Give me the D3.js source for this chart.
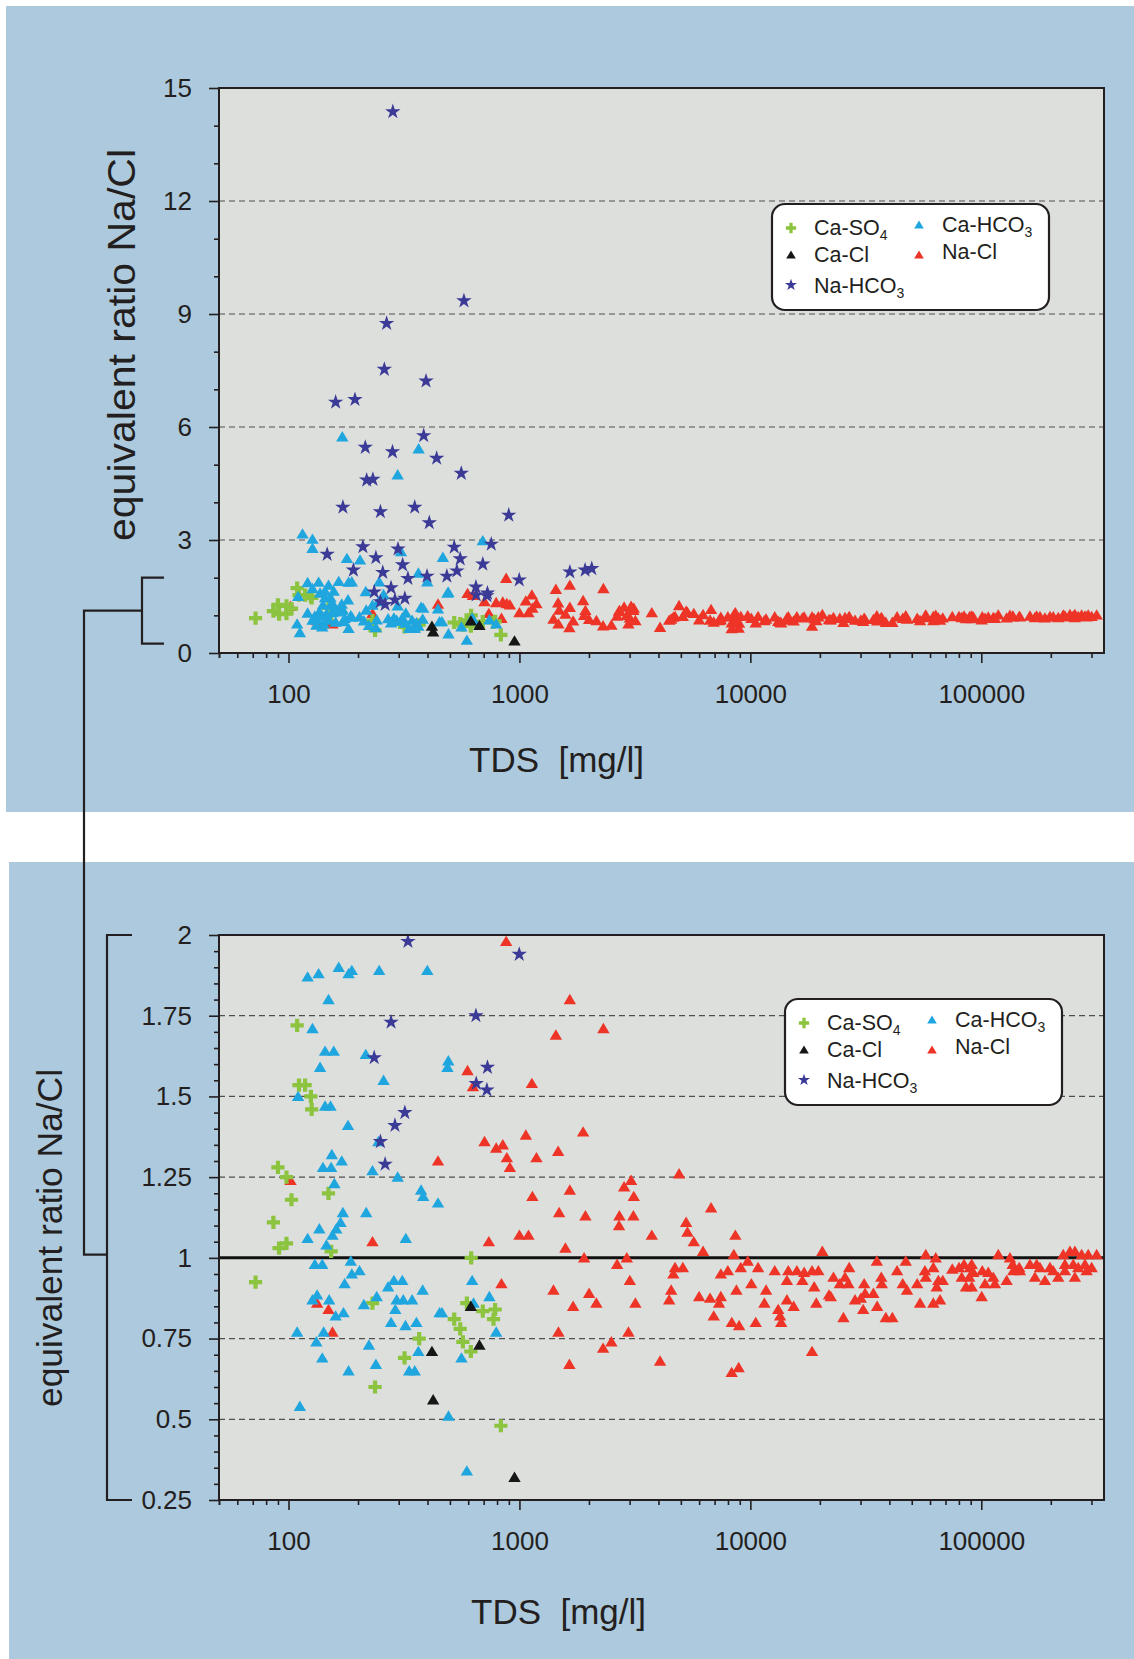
<!DOCTYPE html>
<html>
<head>
<meta charset="utf-8">
<script src="https://cdn.jsdelivr.net/npm/d3@7"></script>
<style>
  body { margin: 0; background: #fff; }
  svg { display: block; }
  text { font-family: "Liberation Sans", Arial, Helvetica, sans-serif; fill: #231f20; }
</style>
</head>
<body>
<svg id="chart" width="1134" height="1659"></svg>
<script>
// ---- data: [TDS mg/l, equivalent ratio Na/Cl] per water type ----
const caSO4 = [
  [109,1.72],[111,1.535],[118,1.535],[125,1.50],[126,1.46],[90,1.28],[98,1.25],[103,1.18],
  [149,1.20],[86,1.11],[98,1.045],[91,1.03],[153,1.02],[72,0.925],[231,0.86],[368,0.75],
  [318,0.69],[237,0.60],[618,1.00],[592,0.86],[694,0.835],[785,0.84],[772,0.81],[522,0.81],
  [554,0.78],[569,0.74],[616,0.71],[831,0.48]
];
const caCl = [[418,0.71],[423,0.56],[616,0.85],[671,0.73],[952,0.32]];
const naHCO3 = [
  [329,1.98],[278,1.73],[235,1.62],[319,1.45],[289,1.41],[250,1.36],[262,1.29],[998,1.94],
  [648,1.75],[727,1.59],[650,1.54],[723,1.52],
  [283,14.37],[575,9.35],[266,8.75],[260,7.53],[394,7.22],[160,6.66],[194,6.73],[385,5.77],
  [215,5.46],[282,5.34],[438,5.17],[560,4.77],[218,4.59],[232,4.61],[172,3.87],[250,3.75],
  [352,3.87],[407,3.46],[899,3.66],[147,2.62],[210,2.82],[239,2.53],[298,2.76],[312,2.34],
  [522,2.81],[554,2.50],[755,2.89],[694,2.36],[191,2.20],[536,2.18],[485,2.04],[398,2.04],
  [256,2.14],[1654,2.15],[1925,2.20],[2057,2.24]
];
const caHCO3 = [
  [121,1.87],[135,1.88],[165,1.90],[182,1.88],[188,1.89],[247,1.89],[399,1.89],[149,1.80],
  [127,1.71],[144,1.64],[157,1.64],[216,1.63],[492,1.61],[488,1.59],[137,1.59],[258,1.55],
  [110,1.50],[144,1.47],[152,1.47],[181,1.41],[245,1.36],[154,1.32],[141,1.28],[153,1.28],
  [170,1.30],[231,1.27],[297,1.25],[158,1.23],[375,1.21],[383,1.19],[444,1.17],[172,1.14],
  [217,1.14],[136,1.09],[168,1.11],[161,1.09],[155,1.07],[121,1.06],[322,1.06],[146,1.04],
  [130,0.98],[140,0.98],[186,0.99],[188,0.95],[203,0.96],[175,0.92],[270,0.91],[286,0.93],
  [311,0.93],[381,0.90],[127,0.87],[133,0.885],[150,0.87],[160,0.82],[173,0.83],[212,0.855],
  [241,0.88],[294,0.87],[314,0.87],[343,0.87],[290,0.84],[451,0.83],[278,0.80],[321,0.79],
  [358,0.80],[109,0.77],[142,0.77],[132,0.74],[223,0.73],[365,0.71],[140,0.69],[239,0.67],
  [333,0.65],[352,0.65],[182,0.65],[112,0.54],[493,0.51],[592,0.34],[624,0.93],[741,0.88],
  [633,0.86],[462,0.83],[793,0.77],[561,0.69],
  [171,5.74],[366,5.42],[297,4.73],[115,3.16],[127,3.02],[127,2.78],[307,2.69],[694,2.98],
  [466,2.54],[179,2.51],[204,2.47],[365,2.12]
];
const naCl = [
  [102,1.24],[444,1.30],[231,1.05],[133,0.86],[149,0.84],[155,0.77],[876,1.98],[1653,1.80],
  [2310,1.71],[1438,1.69],[596,1.58],[629,1.53],[1132,1.54],[1066,1.38],[1887,1.39],[706,1.36],
  [793,1.34],[847,1.35],[882,1.31],[1185,1.31],[1471,1.33],[909,1.28],[3045,1.24],[2840,1.22],
  [3127,1.19],[1653,1.21],[1138,1.19],[1486,1.14],[1931,1.13],[2710,1.13],[3115,1.13],[2700,1.10],
  [737,1.05],[1000,1.07],[1094,1.07],[3743,1.07],[1582,1.03],[1906,1.00],[2917,1.00],[2648,0.98],
  [836,0.92],[1404,0.90],[2003,0.89],[2154,0.86],[1708,0.85],[3006,0.93],[3178,0.86],[1475,0.77],
  [2965,0.77],[2502,0.74],[2303,0.72],[1646,0.67],[4065,0.68],
  [4913,1.26],[6760,1.155],[5270,1.11],[5340,1.08],[5690,1.05],[6240,1.02],[8610,1.07],[8480,1.01],
  [9740,0.99],[20500,1.02],[4720,0.97],[5100,0.97],[4640,0.95],[4540,0.90],[4450,0.87],[6000,0.88],
  [6690,0.875],[7450,0.88],[7320,0.86],[6940,0.82],[8310,0.80],[8940,0.79],[8700,0.90],[7450,0.95],
  [7990,0.96],[9090,0.97],[10800,0.97],[10100,0.92],[11700,0.90],[11500,0.86],[10550,0.80],[12750,0.96],
  [14400,0.87],[15400,0.85],[13200,0.84],[13450,0.82],[13600,0.80],[14600,0.96],[15900,0.96],[17100,0.955],
  [14400,0.93],[16800,0.93],[18500,0.96],[19700,0.96],[18900,0.91],[19300,0.86],[21900,0.885],[22300,0.88],
  [22900,0.94],[24400,0.92],[26800,0.97],[25700,0.94],[26600,0.92],[25300,0.815],[31100,0.92],[28400,0.87],
  [30100,0.875],[31400,0.89],[34100,0.89],[30800,0.84],[35400,0.85],[36900,0.94],[37100,0.92],[35300,0.99],
  [38600,0.815],[41200,0.815],[43200,0.96],[45700,0.92],[47700,0.90],[47100,0.99],[52800,0.92],[54300,0.86],
  [57500,1.01],[63500,1.00],[57000,0.96],[62000,0.97],[57500,0.94],[64100,0.91],[65200,0.93],[68100,0.93],
  [62000,0.86],[66300,0.87],[74900,0.965],[80100,0.97],[84200,0.98],[89300,0.97],[90900,0.98],[82300,0.94],
  [88700,0.94],[92400,0.955],[85900,0.91],[90900,0.91],[100400,0.88],[101000,0.96],[107200,0.955],[112700,0.94],
  [103800,0.92],[114600,0.92],[118500,1.01],[128800,0.93],[133100,1.00],[136800,0.98],[146000,0.97],[137600,0.96],
  [147000,0.96],[162500,0.98],[173700,0.98],[179500,0.97],[170800,0.94],[188700,0.93],[198400,0.97],[205000,0.96],
  [215400,0.94],[226500,1.01],[242100,1.02],[254400,1.02],[272000,1.01],[290500,1.01],[316000,1.01],[230300,0.98],
  [250200,0.98],[263000,0.97],[281200,0.98],[300600,0.97],[230300,0.96],[254400,0.94],[286000,0.96],
  [8300,0.645],[8900,0.66],[18500,0.71]
];

const xDomain = [50, 340000];
const xMajorTicks = [100, 1000, 10000, 100000];
const topYTicks = [0, 3, 6, 9, 12, 15];
const bottomYTicks = [0.25, 0.5, 0.75, 1, 1.25, 1.5, 1.75, 2];
const xTitle = "TDS  [mg/l]";
const yTitle = "equivalent ratio Na/Cl";

// ---- styles of the water types (drawing order = list order) ----
const groups = [
  { key: "Na-Cl",   data: naCl,   shape: "tri",  color: "#ee3427" },
  { key: "Ca-SO4",  data: caSO4,  shape: "plus", color: "#8cc43f" },
  { key: "Ca-HCO3", data: caHCO3, shape: "tri",  color: "#1fa6df" },
  { key: "Na-HCO3", data: naHCO3, shape: "star", color: "#3b3a96" },
  { key: "Ca-Cl",   data: caCl,   shape: "tri",  color: "#161616" }
];

const W = 1134, H = 1659;
const svg = d3.select("#chart");
const panelBlue = "#adc9dd";
const plotGrey = "#dcdfdc";
const ink = "#231f20";

svg.append("rect").attr("width", W).attr("height", H).attr("fill", "#fff");
svg.append("rect").attr("x", 6).attr("y", 6).attr("width", W - 6).attr("height", 806).attr("fill", panelBlue);
svg.append("rect").attr("x", 9).attr("y", 862).attr("width", W - 9).attr("height", H - 862).attr("fill", panelBlue);

const plotL = 219, plotR = 1104;
const x = d3.scaleLog().domain(xDomain).range([plotL, plotR]);
const yTop = d3.scaleLinear().domain([0, 15]).range([653, 88]);
const yBot = d3.scaleLinear().domain([0.25, 2]).range([1500, 935]);

// marker outlines
const shapes = {
  tri: "M0,-5.8L6.2,4.6L-6.2,4.6Z",
  plus: "M-2.1,-6.6H2.1V-2.1H6.6V2.1H2.1V6.6H-2.1V2.1H-6.6V-2.1H-2.1Z",
  star: d3.symbol(d3.symbolStar, 74)()
};

// minor tick values on the log axis
const xMinorTicks = [];
for (let e = 1; e <= 5; e++) {
  for (let m = 1; m <= 9; m++) {
    const v = m * Math.pow(10, e);
    if (v >= xDomain[0] && v <= xDomain[1] && !xMajorTicks.includes(v)) xMinorTicks.push(v);
  }
}
xMinorTicks.push(xDomain[0]);

function drawPanel(cfg) {
  const y = cfg.y;
  const [yb, yt] = y.range();
  const g = svg.append("g");

  g.append("rect").attr("x", plotL).attr("y", yt).attr("width", plotR - plotL).attr("height", yb - yt)
    .attr("fill", plotGrey);

  // dashed gridlines
  g.append("g").selectAll("line").data(cfg.grid).join("line")
    .attr("x1", plotL).attr("x2", plotR).attr("y1", d => y(d)).attr("y2", d => y(d))
    .attr("stroke", "#4f4f4f").attr("stroke-width", 1.2).attr("stroke-dasharray", "6,4");

  if (cfg.refLine != null) {
    g.append("line").attr("x1", plotL).attr("x2", plotR)
      .attr("y1", y(cfg.refLine)).attr("y2", y(cfg.refLine))
      .attr("stroke", "#111").attr("stroke-width", 3);
  }

  // points
  const pts = g.append("g");
  groups.forEach(grp => {
    const vis = grp.data.filter(d => d[1] >= y.domain()[0] && d[1] <= y.domain()[1] + 0.001);
    pts.append("g").selectAll("path").data(vis).join("path")
      .attr("d", shapes[grp.shape])
      .attr("transform", d => `translate(${x(d[0])},${y(d[1])})`)
      .attr("fill", grp.color);
  });

  // frame
  g.append("rect").attr("x", plotL).attr("y", yt).attr("width", plotR - plotL).attr("height", yb - yt)
    .attr("fill", "none").attr("stroke", ink).attr("stroke-width", 2);

  // y axis: major with labels, minor without
  const yAx = g.append("g").attr("transform", `translate(${plotL},0)`)
    .call(d3.axisLeft(y).tickValues(cfg.yTicks).tickSize(10).tickPadding(17).tickFormat(cfg.yFormat));
  const yMin = g.append("g").attr("transform", `translate(${plotL},0)`)
    .call(d3.axisLeft(y).tickValues(cfg.yMinor).tickSize(5).tickFormat(""));
  [yAx, yMin].forEach(a => {
    a.select(".domain").remove();
    a.selectAll("line").attr("stroke", ink).attr("stroke-width", 1.6);
  });
  yAx.selectAll("text").attr("font-size", 26).attr("fill", ink)
    .style("font-family", '"Liberation Sans", Arial, sans-serif');

  // x axis
  const xAx = g.append("g").attr("transform", `translate(0,${yb})`)
    .call(d3.axisBottom(x).tickValues(xMajorTicks).tickSize(10).tickPadding(22).tickFormat(d3.format("d")));
  const xMin = g.append("g").attr("transform", `translate(0,${yb})`)
    .call(d3.axisBottom(x).tickValues(xMinorTicks).tickSize(5).tickFormat(""));
  [xAx, xMin].forEach(a => {
    a.select(".domain").remove();
    a.selectAll("line").attr("stroke", ink).attr("stroke-width", 1.6);
  });
  xAx.selectAll("text").attr("font-size", 26).attr("fill", ink)
    .style("font-family", '"Liberation Sans", Arial, sans-serif');

  // axis titles
  g.append("text").attr("x", cfg.xTitleX).attr("y", cfg.xTitleY).attr("font-size", 35)
    .attr("xml:space", "preserve").style("white-space", "pre").text(xTitle);
  g.append("text").attr("transform", `translate(${cfg.yTitleX},${cfg.yTitleY}) rotate(-90)`)
    .attr("text-anchor", "middle").attr("dominant-baseline", "central").attr("font-size", cfg.yTitleSize)
    .attr("textLength", cfg.yTitleLen).attr("lengthAdjust", "spacingAndGlyphs")
    .text(yTitle);

  // legend
  const lg = g.append("g").attr("transform", `translate(${cfg.legend[0]},${cfg.legend[1]})`);
  lg.append("rect").attr("width", 277).attr("height", 106).attr("rx", 13)
    .attr("fill", "#fff").attr("stroke", ink).attr("stroke-width", 2.2);
  const items = [
    { key: "Ca-SO4",  main: "Ca-SO", sub: "4", mx: 19, my: 24, tx: 42, ty: 31 },
    { key: "Ca-Cl",   main: "Ca-Cl", sub: "",  mx: 19, my: 51, tx: 42, ty: 58 },
    { key: "Na-HCO3", main: "Na-HCO", sub: "3", mx: 19, my: 81, tx: 42, ty: 89 },
    { key: "Ca-HCO3", main: "Ca-HCO", sub: "3", mx: 147, my: 21, tx: 170, ty: 28 },
    { key: "Na-Cl",   main: "Na-Cl", sub: "",  mx: 147, my: 51, tx: 170, ty: 55 }
  ];
  items.forEach(it => {
    const grp = groups.find(gg => gg.key === it.key);
    lg.append("path").attr("d", shapes[grp.shape])
      .attr("transform", `translate(${it.mx},${it.my}) scale(0.78)`).attr("fill", grp.color);
    const t = lg.append("text").attr("x", it.tx).attr("y", it.ty).attr("font-size", 21.5).text(it.main);
    if (it.sub) t.append("tspan").attr("font-size", 14).attr("dy", 5).text(it.sub);
  });
}

drawPanel({
  y: yTop, grid: [3, 6, 9, 12], refLine: null,
  yTicks: topYTicks, yMinor: d3.range(0, 16).filter(v => v % 3 !== 0),
  yFormat: d3.format("d"),
  xTitleX: 469, xTitleY: 772, yTitleX: 121, yTitleY: 345, yTitleSize: 39, yTitleLen: 392,
  legend: [772, 204]
});
drawPanel({
  y: yBot, grid: [0.5, 0.75, 1.25, 1.5, 1.75], refLine: 1,
  yTicks: bottomYTicks, yMinor: d3.range(0.3, 2.0, 0.05).filter(v => Math.abs(v / 0.25 - Math.round(v / 0.25)) > 0.01),
  yFormat: d => String(d),
  xTitleX: 471, xTitleY: 1624, yTitleX: 50, yTitleY: 1238, yTitleSize: 35.5, yTitleLen: 338,
  legend: [785, 999]
});

// bracket linking the 0.25–2 band of the upper plot to the lower plot
const br = svg.append("g").attr("fill", "none").attr("stroke", ink).attr("stroke-width", 2.2);
const tb0 = yTop(2), tb1 = yTop(0.25), tMid = (tb0 + tb1) / 2;
br.append("path").attr("d", `M164,${tb0}H142V${tb1}H164`);
const bb0 = yBot(2), bb1 = yBot(0.25), bJoin = yBot(1.01);
br.append("path").attr("d", `M132,${bb0}H107V${bb1}H132`);
br.append("path").attr("d", `M142,${tMid}H84V${bJoin}H107`);
</script>
</body>
</html>
